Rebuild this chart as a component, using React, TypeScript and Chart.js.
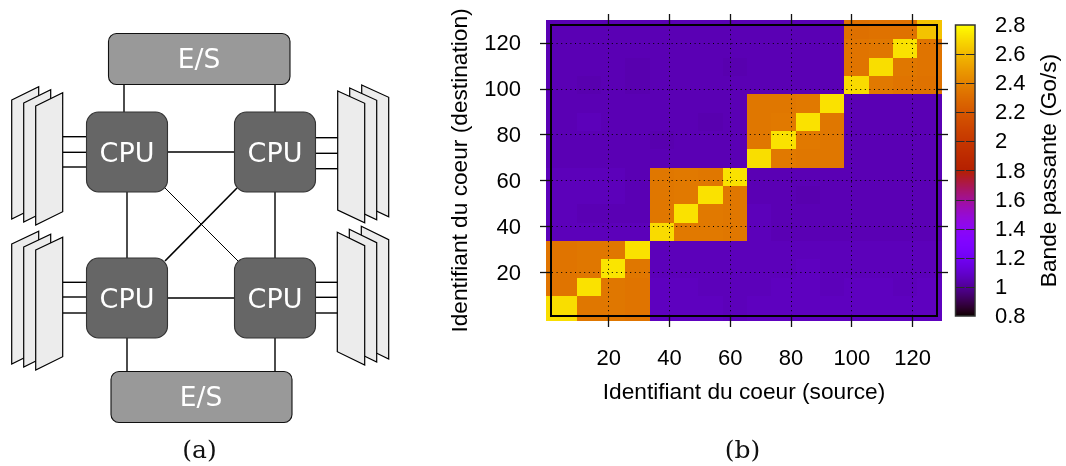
import React, { useEffect, useRef } from "react";
import { Chart, registerables } from "chart.js";

Chart.register(...registerables);

const FONT = "'Liberation Sans', Arial, sans-serif";
const xTicks = [20, 40, 60, 80, 100, 120];
const yTicks = [20, 40, 60, 80, 100, 120];
const cbTicks = [0.8, 1, 1.2, 1.4, 1.6, 1.8, 2, 2.2, 2.4, 2.6, 2.8];
const xTitle = "Identifiant du coeur (source)";
const yTitle = "Identifiant du coeur (destination)";
const cbTitle = "Bande passante (Go/s)";

// Core-group boundaries (core ids)
const xEdges = [-0.5, 9.5, 17.5, 25.5, 33.5, 41.5, 49.5, 57.5, 65.5, 73.5, 81.5, 89.5, 97.5, 105.5, 113.5, 121.5, 129.6];
const yEdges = [-1.3, 9.8, 17.8, 25.8, 33.8, 41.8, 49.8, 57.8, 65.8, 73.8, 81.8, 89.8, 97.8, 105.8, 113.8, 121.8, 130.2];

// Bandwidth (Go/s) per group, bottom row first
const row01 = [2.71, 2.35, 2.35, 2.34, 1.07, 1.07, 1.07, 1.06, 1.07, 1.07, 1.07, 1.07, 1.07, 1.07, 1.07, 1.07];
const row02 = [2.34, 2.72, 2.35, 2.34, 1.07, 1.07, 1.06, 1.06, 1.06, 1.07, 1.07, 1.06, 1.07, 1.07, 1.06, 1.07];
const row03 = [2.34, 2.35, 2.73, 2.35, 1.06, 1.06, 1.06, 1.06, 1.06, 1.06, 1.07, 1.06, 1.06, 1.06, 1.06, 1.06];
const row04 = [2.34, 2.35, 2.35, 2.72, 1.06, 1.06, 1.06, 1.06, 1.06, 1.06, 1.06, 1.06, 1.06, 1.06, 1.06, 1.06];
const row05 = [1.06, 1.06, 1.06, 1.06, 2.70, 2.36, 2.36, 2.35, 1.06, 1.05, 1.05, 1.05, 1.05, 1.05, 1.05, 1.05];
const row06 = [1.06, 1.05, 1.05, 1.05, 2.35, 2.72, 2.36, 2.35, 1.06, 1.05, 1.05, 1.05, 1.05, 1.05, 1.05, 1.05];
const row07 = [1.06, 1.06, 1.06, 1.05, 2.35, 2.36, 2.72, 2.35, 1.05, 1.05, 1.04, 1.05, 1.05, 1.05, 1.05, 1.05];
const row08 = [1.06, 1.06, 1.06, 1.05, 2.35, 2.36, 2.35, 2.72, 1.05, 1.05, 1.05, 1.05, 1.05, 1.05, 1.05, 1.05];
const row09 = [1.05, 1.05, 1.05, 1.05, 1.05, 1.05, 1.05, 1.05, 2.71, 2.36, 2.35, 2.35, 1.05, 1.05, 1.05, 1.05];
const row10 = [1.05, 1.05, 1.05, 1.05, 1.04, 1.05, 1.05, 1.05, 2.35, 2.72, 2.36, 2.35, 1.05, 1.05, 1.05, 1.05];
const row11 = [1.05, 1.06, 1.05, 1.05, 1.05, 1.05, 1.04, 1.05, 2.35, 2.36, 2.72, 2.35, 1.05, 1.05, 1.05, 1.05];
const row12 = [1.05, 1.05, 1.05, 1.05, 1.05, 1.05, 1.05, 1.05, 2.35, 2.35, 2.36, 2.72, 1.05, 1.05, 1.05, 1.05];
const row13 = [1.05, 1.04, 1.05, 1.04, 1.05, 1.05, 1.05, 1.05, 1.05, 1.05, 1.05, 1.05, 2.70, 2.36, 2.34, 2.33];
const row14 = [1.05, 1.05, 1.05, 1.04, 1.05, 1.05, 1.05, 1.04, 1.05, 1.05, 1.05, 1.05, 2.34, 2.71, 2.35, 2.34];
const row15 = [1.05, 1.05, 1.05, 1.05, 1.05, 1.05, 1.05, 1.05, 1.05, 1.05, 1.05, 1.05, 2.34, 2.35, 2.72, 2.34];
const row16 = [1.05, 1.05, 1.05, 1.05, 1.05, 1.05, 1.05, 1.05, 1.05, 1.05, 1.05, 1.05, 2.32, 2.33, 2.33, 2.63];
const rows = [row01, row02, row03, row04, row05, row06, row07, row08, row09, row10, row11, row12, row13, row14, row15, row16];

const cbMin = cbTicks[0];
const cbMax = cbTicks[cbTicks.length - 1];

// gnuplot's default pm3d palette (rgbformulae 7,5,15)
function palette(v: number) {
  const t = Math.min(1, Math.max(0, (v - cbMin) / (cbMax - cbMin)));
  const r = Math.sqrt(t);
  const g = t * t * t;
  const b = Math.max(0, Math.sin(2 * Math.PI * t));
  return `rgb(${Math.round(r * 255)},${Math.round(g * 255)},${Math.round(b * 255)})`;
}

const cells = rows.flatMap((row, r) =>
  row.map((v, c) => ({
    x: (xEdges[c] + xEdges[c + 1]) / 2,
    y: (yEdges[r] + yEdges[r + 1]) / 2,
    x0: xEdges[c],
    x1: xEdges[c + 1],
    y0: yEdges[r],
    y1: yEdges[r + 1],
    v,
  }))
);

const heatmapPlugin = {
  id: "heatmap",
  beforeDatasetsDraw(chart: any) {
    const { ctx, scales } = chart;
    ctx.save();
    for (const cell of chart.data.datasets[0].data) {
      const l = Math.round(scales.x.getPixelForValue(cell.x0));
      const r = Math.round(scales.x.getPixelForValue(cell.x1));
      const t = Math.round(scales.y.getPixelForValue(cell.y1));
      const b = Math.round(scales.y.getPixelForValue(cell.y0));
      ctx.fillStyle = palette(cell.v);
      ctx.fillRect(l, t, r - l, b - t);
    }
    ctx.restore();
  },
  afterDraw(chart: any) {
    const { ctx, chartArea } = chart;
    const cb = chart.scales.cb;
    const right = cb.left;
    const left = right - 19.5;
    const top = Math.round(cb.getPixelForValue(cbMax));
    const bottom = Math.round(cb.getPixelForValue(cbMin));
    ctx.save();
    for (let y = top; y < bottom; y++) {
      ctx.fillStyle = palette(cb.getValueForPixel(y + 0.5));
      ctx.fillRect(left, y, right - left, 1);
    }
    ctx.strokeStyle = "#2a2a2a";
    ctx.lineWidth = 1;
    ctx.beginPath();
    for (const v of cbTicks.slice(1, -1)) {
      const y = Math.round(cb.getPixelForValue(v)) + 0.5;
      ctx.moveTo(left, y);
      ctx.lineTo(left + 9, y);
      ctx.moveTo(right, y);
      ctx.lineTo(right - 9, y);
    }
    ctx.stroke();
    ctx.lineWidth = 1.5;
    ctx.strokeStyle = "#333";
    ctx.strokeRect(left, top, right - left, bottom - top);
    ctx.fillStyle = "#000";
    ctx.font = `22.7px ${FONT}`;
    ctx.textAlign = "center";
    ctx.textBaseline = "middle";
    ctx.translate(1050, (chartArea.top + chartArea.bottom) / 2);
    ctx.rotate(-Math.PI / 2);
    ctx.fillText(cbTitle, 0, 0);
    ctx.restore();
  },
};

const axisFrame = {
  type: "linear" as const,
  min: 1,
  max: 128,
  border: { display: true, color: "#000", width: 2, z: 2, dash: [1, 3.6] },
};
const gridLines = {
  display: true,
  drawOnChartArea: true,
  drawTicks: true,
  tickLength: 11,
  tickWidth: 1.3,
  tickColor: "#111",
  tickBorderDash: [],
  color: "#000",
  lineWidth: 1,
  z: 1,
};
const mirrorLines = { ...gridLines, drawOnChartArea: false };

function setTicks(list: number[]) {
  return (s: any) => {
    s.ticks = list.map((value) => ({ value }));
  };
}

function fixBox(prop: "width" | "height", size: number) {
  return (s: any) => {
    s[prop] = size;
    s.paddingTop = 0;
    s.paddingBottom = 0;
    s.paddingLeft = 0;
    s.paddingRight = 0;
  };
}

function Diagram() {
  const line = { stroke: "#000", strokeWidth: 1.4, fill: "none" };
  const sheet = (pts: number[][], dx: number, dy: number) => (
    <polygon
      points={pts.map(([x, y]) => `${x + dx},${y + dy}`).join(" ")}
      fill="#ececec"
      stroke="#000"
      strokeWidth={1.2}
      strokeLinejoin="miter"
    />
  );
  const stack = (pts: number[][], dx: number) => (
    <g>
      {sheet(pts, 2 * dx, -6)}
      {sheet(pts, dx, -3)}
      {sheet(pts, 0, 0)}
    </g>
  );
  const segs = [
    [124, 84, 124, 112], [275, 84, 275, 112],
    [127, 338, 127, 371], [275, 338, 275, 371],
    [167, 152, 234, 152], [167, 298, 234, 298],
    [127, 192, 127, 258], [275, 192, 275, 258],
    [63, 136.7, 86, 136.7], [63, 152.3, 86, 152.3], [63, 167, 86, 167],
    [315, 137.7, 338, 137.7], [315, 153.3, 338, 153.3], [315, 168.7, 338, 168.7],
    [63, 282.3, 86, 282.3], [63, 297, 86, 297], [63, 313, 86, 313],
    [315, 282.3, 338, 282.3], [315, 297.3, 338, 297.3], [315, 313, 338, 313],
  ];
  const cpus = [[86, 112], [234, 112], [86, 258], [234, 258]];
  const txt = { fontFamily: "'DejaVu Sans', sans-serif", fill: "#fff", textAnchor: "middle" as const };
  return (
    <svg width={1066} height={466} style={{ position: "absolute", left: 0, top: 0 }}>
      {segs.map((s, i) => (
        <line key={i} x1={s[0]} y1={s[1]} x2={s[2]} y2={s[3]} {...line} />
      ))}
      <line x1={165} y1={188} x2={238} y2={261} stroke="#000" strokeWidth={1} />
      <line x1={237} y1={188} x2={165} y2={261} stroke="#000" strokeWidth={1.6} />
      {stack([[35.7, 106], [62.7, 92.7], [62.7, 211.7], [35.7, 225]], -12)}
      {stack([[337.7, 91], [364.7, 103.3], [364.7, 222.7], [337.7, 210]], 12)}
      {stack([[35.7, 250], [62.7, 237.3], [62.7, 356.7], [35.7, 370]], -12)}
      {stack([[337.3, 232.3], [364.7, 245.7], [364.7, 365], [337.3, 351.7]], 12)}
      <rect x={108.5} y={33.5} width={181.5} height={51} rx={8} fill="#999" stroke="#111" strokeWidth={1.1} />
      <rect x={111} y={371.5} width={181} height={51} rx={8} fill="#999" stroke="#111" strokeWidth={1.1} />
      {cpus.map(([x, y], i) => (
        <g key={i}>
          <rect x={x + 0.5} y={y} width={81} height={80} rx={12} fill="#666" stroke="#333" strokeWidth={1.1} />
          <text x={x + 41} y={y + 49.5} fontSize={27} {...txt}>CPU</text>
        </g>
      ))}
      <text x={199} y={68} fontSize={26.5} {...txt}>E/S</text>
      <text x={201} y={406} fontSize={26.5} {...txt}>E/S</text>
      <text x={199.5} y={458} fontSize={25} fontFamily="'DejaVu Serif', serif" fill="#111" textAnchor="middle">(a)</text>
      <text x={742.5} y={458} fontSize={25} fontFamily="'DejaVu Serif', serif" fill="#111" textAnchor="middle">(b)</text>
    </svg>
  );
}

export default function App() {
  const ref = useRef<HTMLCanvasElement>(null);
  useEffect(() => {
    const chart = new Chart(ref.current as HTMLCanvasElement, {
      type: "scatter",
      data: {
        datasets: [
          {
            label: cbTitle,
            data: cells as any,
            xAxisID: "x",
            yAxisID: "y",
            pointRadius: 0,
            pointHoverRadius: 0,
          },
        ],
      },
      plugins: [heatmapPlugin],
      options: {
        responsive: false,
        animation: false,
        events: [],
        layout: { padding: 0 },
        plugins: { legend: { display: false }, tooltip: { enabled: false }, title: { display: false } },
        scales: {
          x: {
            ...axisFrame,
            position: "bottom",
            grid: gridLines,
            afterBuildTicks: setTicks(xTicks),
            afterFit: fixBox("height", 150),
            ticks: {
              autoSkip: false, maxRotation: 0, padding: 18.5, color: "#000",
              font: { family: FONT, size: 22 },
            },
            title: {
              display: true, text: xTitle, color: "#000",
              font: { family: FONT, size: 22.7 },
              padding: { top: 0, bottom: 59.9 },
            },
          },
          x2: {
            ...axisFrame,
            position: "top",
            grid: mirrorLines,
            afterBuildTicks: setTicks(xTicks),
            afterFit: fixBox("height", 25),
            ticks: { display: false },
          },
          y: {
            ...axisFrame,
            position: "left",
            grid: gridLines,
            afterBuildTicks: setTicks(yTicks),
            afterFit: fixBox("width", 551),
            ticks: {
              autoSkip: false, padding: 19, color: "#000", labelOffset: 1,
              font: { family: FONT, size: 22 },
            },
            title: {
              display: true, text: yTitle, color: "#000",
              font: { family: FONT, size: 22.7 },
              padding: { top: 447, bottom: 0 },
            },
          },
          y2: {
            ...axisFrame,
            position: "right",
            weight: 0,
            grid: mirrorLines,
            afterBuildTicks: setTicks(yTicks),
            afterFit: fixBox("width", 38),
            ticks: { display: false },
          },
          cb: {
            type: "linear",
            axis: "y",
            position: "right",
            weight: 1,
            min: cbMin,
            max: cbMax,
            grid: { display: false, drawTicks: false },
            border: { display: false },
            afterBuildTicks: setTicks(cbTicks),
            afterFit: fixBox("width", 91),
            ticks: {
              autoSkip: false, padding: 20, color: "#000", labelOffset: 1,
              font: { family: FONT, size: 22 },
              callback: (v: any) => String(v),
            },
          },
        } as any,
      },
    } as any);
    return () => chart.destroy();
  }, []);
  return (
    <div style={{ position: "absolute", left: 0, top: 0, width: 1066, height: 466, overflow: "hidden", background: "#fff" }}>
      <canvas ref={ref} width={1066} height={466} style={{ position: "absolute", left: 0, top: 0 }} />
      <Diagram />
    </div>
  );
}
